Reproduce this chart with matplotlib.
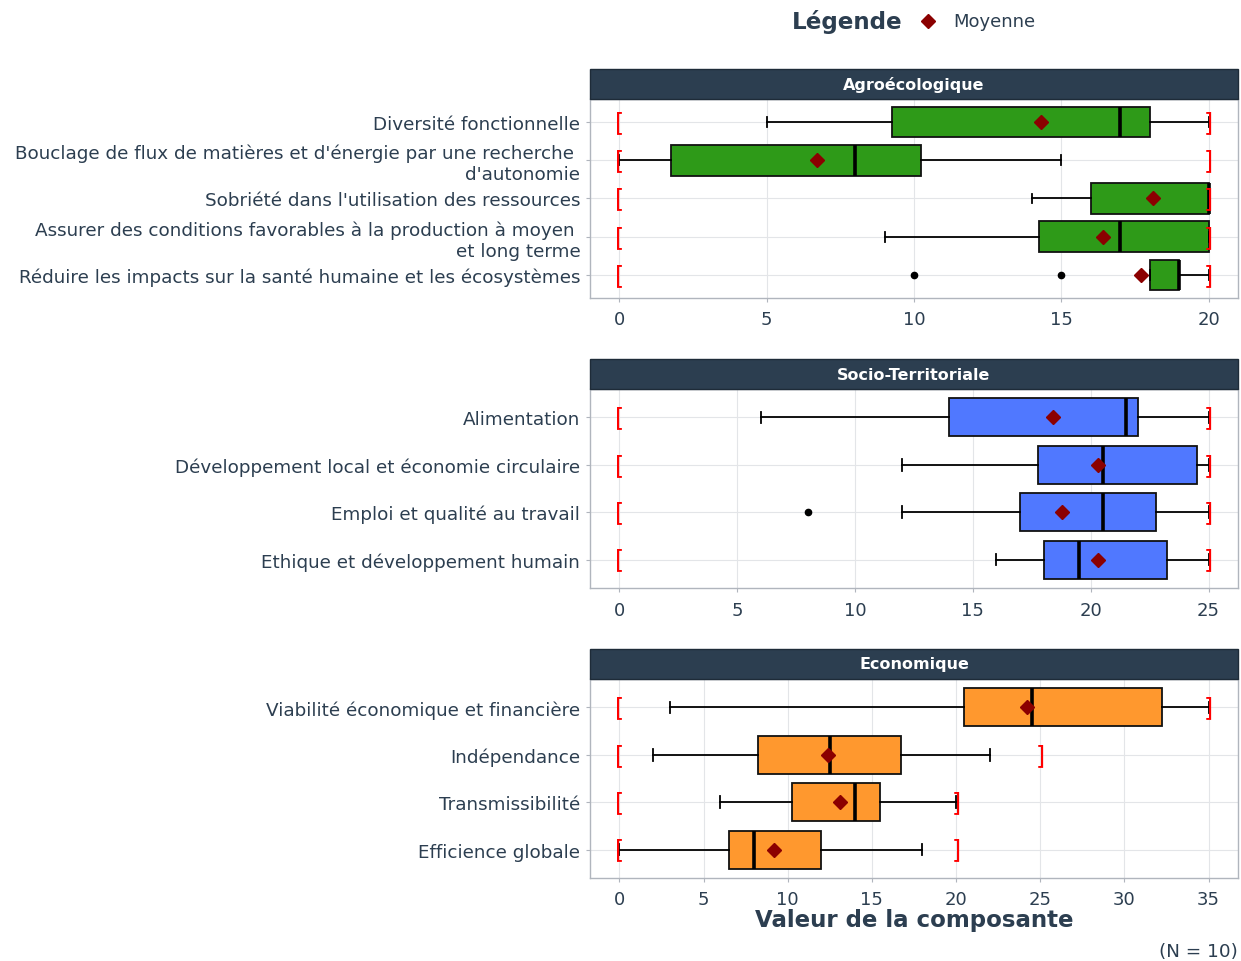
import matplotlib
matplotlib.use("Agg")
import matplotlib.pyplot as plt
from matplotlib.patches import Rectangle

plt.rcParams['font.family'] = ['DejaVu Sans']

TXT = '#2C3E50'

# ---------------- data ----------------
agro_labels = ["Diversité fonctionnelle",
               "Bouclage de flux de matières et d'énergie par une recherche \nd'autonomie",
               "Sobriété dans l'utilisation des ressources",
               "Assurer des conditions favorables à la production à moyen \net long terme",
               "Réduire les impacts sur la santé humaine et les écosystèmes"]
agro_whislo = [5, 0, 14, 9, 18]
agro_q1 = [9.25, 1.75, 16, 14.25, 18]
agro_med = [17, 8, 20, 17, 19]
agro_q3 = [18, 10.25, 20, 20, 19]
agro_whishi = [20, 15, 20, 20, 20]
agro_mean = [14.3, 6.7, 18.1, 16.4, 17.7]
agro_fliers = [[], [], [], [], [10, 15]]
agro_max = [20, 20, 20, 20, 20]

socio_labels = ["Alimentation",
                "Développement local et économie circulaire",
                "Emploi et qualité au travail",
                "Ethique et développement humain"]
socio_whislo = [6, 12, 12, 16]
socio_q1 = [14, 17.75, 17, 18]
socio_med = [21.5, 20.5, 20.5, 19.5]
socio_q3 = [22, 24.5, 22.75, 23.25]
socio_whishi = [25, 25, 25, 25]
socio_mean = [18.4, 20.3, 18.8, 20.3]
socio_fliers = [[], [], [8], []]
socio_max = [25, 25, 25, 25]

eco_labels = ["Viabilité économique et financière",
              "Indépendance",
              "Transmissibilité",
              "Efficience globale"]
eco_whislo = [3, 2, 6, 0]
eco_q1 = [20.5, 8.25, 10.25, 6.5]
eco_med = [24.5, 12.5, 14, 8]
eco_q3 = [32.25, 16.75, 15.5, 12]
eco_whishi = [35, 22, 20, 18]
eco_mean = [24.2, 12.4, 13.1, 9.2]
eco_fliers = [[], [], [], []]
eco_max = [35, 25, 20, 20]

panels = [
    dict(title="Agroécologique", labels=agro_labels, lo=agro_whislo, q1=agro_q1, med=agro_med,
         q3=agro_q3, hi=agro_whishi, mean=agro_mean, fl=agro_fliers, mx=agro_max,
         color='#2E9A18', xmax=20, ticks=[0, 5, 10, 15, 20]),
    dict(title="Socio-Territoriale", labels=socio_labels, lo=socio_whislo, q1=socio_q1, med=socio_med,
         q3=socio_q3, hi=socio_whishi, mean=socio_mean, fl=socio_fliers, mx=socio_max,
         color='#5078FF', xmax=25, ticks=[0, 5, 10, 15, 20, 25]),
    dict(title="Economique", labels=eco_labels, lo=eco_whislo, q1=eco_q1, med=eco_med,
         q3=eco_q3, hi=eco_whishi, mean=eco_mean, fl=eco_fliers, mx=eco_max,
         color='#FF982E', xmax=35, ticks=[0, 5, 10, 15, 20, 25, 30, 35]),
]

W, H = 1241, 962
fig = plt.figure(figsize=(W / 100, H / 100), dpi=100)

left_px, right_px = 590, 1238
tops = [100, 390, 680]
bottoms = [299, 589, 879]
strip_h = 30

for p, top, bot in zip(panels, tops, bottoms):
    ax = fig.add_axes([left_px / W, 1 - bot / H, (right_px - left_px) / W, (bot - top) / H])
    n = len(p['labels'])
    pos = [n - i for i in range(n)]
    stats = []
    for i in range(n):
        stats.append(dict(med=p['med'][i], q1=p['q1'][i], q3=p['q3'][i],
                          whislo=p['lo'][i], whishi=p['hi'][i], fliers=p['fl'][i]))
    ax.bxp(stats, positions=pos, widths=0.8, orientation='horizontal', patch_artist=True,
           capwidths=0.25, showfliers=True,
           boxprops=dict(facecolor=p['color'], edgecolor='#111111', linewidth=1.3),
           medianprops=dict(color='black', linewidth=2.6),
           whiskerprops=dict(color='black', linewidth=1.3),
           capprops=dict(color='black', linewidth=1.3),
           flierprops=dict(marker='o', markerfacecolor='black', markeredgecolor='black',
                           markersize=4.5))
    ax.plot(p['mean'], pos, linestyle='none', marker='D', color='#8B0000', markersize=7.5, zorder=5)
    for i in range(n):
        ax.text(0, pos[i], '[', color='red', fontsize=17, ha='center', va='center', zorder=6)
        ax.text(p['mx'][i], pos[i], ']', color='red', fontsize=17, ha='center', va='center', zorder=6)
    xm = p['xmax']
    ax.set_xlim(-0.05 * xm, 1.05 * xm)
    ax.set_ylim(0.4, n + 0.6)
    ax.set_xticks(p['ticks'])
    ax.set_xticklabels([str(t) for t in p['ticks']])
    ax.set_yticks(pos)
    ax.set_yticklabels(p['labels'])
    ax.tick_params(axis='both', colors='#B0B5BD', labelcolor=TXT, length=3, width=0.8)
    ax.tick_params(axis='y', pad=4, labelsize=13.2)
    ax.tick_params(axis='x', pad=6, labelsize=13)
    ax.grid(True, color='#E3E5E8', linewidth=0.8)
    ax.set_axisbelow(True)
    for s in ax.spines.values():
        s.set_color('#B0B5BD')
        s.set_linewidth(1.0)
    # strip
    fig.patches.append(Rectangle((left_px / W, 1 - top / H), (right_px - left_px) / W, strip_h / H,
                                 transform=fig.transFigure, facecolor='#2C3E50', edgecolor='#1E2B38',
                                 linewidth=1.0, zorder=1))
    fig.text((left_px + right_px) / 2 / W, 1 - (top - strip_h / 2) / H, p['title'], color='white',
             fontsize=11.5, fontweight='bold', ha='center', va='center', zorder=2)

# x label
fig.text((left_px + right_px) / 2 / W, 1 - 921 / H, "Valeur de la composante", color=TXT,
         fontsize=16.5, fontweight='bold', ha='center', va='center')
# caption
fig.text(right_px / W, 1 - 952 / H, "(N = 10)", color=TXT, fontsize=13.2, ha='right', va='center')
# legend
fig.text(792 / W, 1 - 22 / H, "Légende", color=TXT, fontsize=16.6, fontweight='bold', ha='left', va='center')
fig.lines.append(matplotlib.lines.Line2D([928 / W], [1 - 22 / H], transform=fig.transFigure,
                                         marker='D', color='#8B0000', markersize=7.5, linestyle='none'))
fig.text(953 / W, 1 - 22 / H, "Moyenne", color=TXT, fontsize=13, ha='left', va='center')

fig.savefig('out.png', dpi=100, facecolor='white')
